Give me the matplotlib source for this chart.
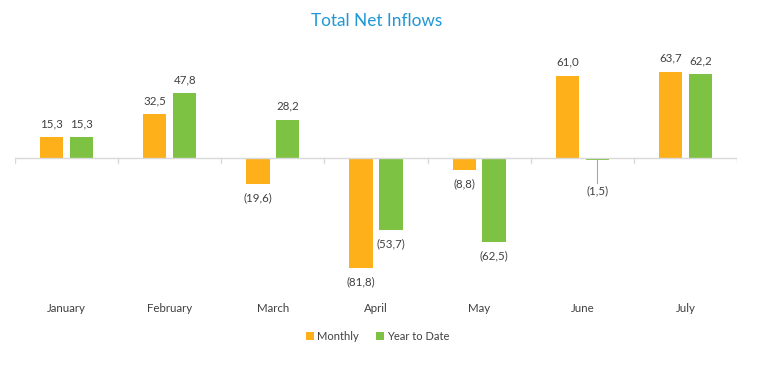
import matplotlib.pyplot as plt
import matplotlib.transforms as mtransforms
import numpy as np

# Datos
months = ['January', 'February', 'March', 'April', 'May', 'June', 'July']
monthly = [15.3, 32.5, -19.6, -81.8, -8.8, 61.0, 63.7]
ytd = [15.3, 47.8, 28.2, -53.7, -62.5, -1.5, 62.2]

orange = '#FDB01A'
green = '#7DC242'
plt.rcParams['font.family'] = ['Lato', 'DejaVu Sans']


def fmt(v):
    s = f'{abs(v):.1f}'.replace('.', ',')
    return f'({s})' if v < 0 else s


fig = plt.figure(figsize=(7.68, 3.73), dpi=100)
ax = fig.add_axes([15 / 768, 1 - 290 / 373, 722 / 768, 245 / 373])

x = np.arange(len(months))
w = 0.225
off = 0.145
ax.bar(x - off, monthly, w, color=orange, label='Monthly')
ax.bar(x + off, ytd, w, color=green, label='Year to Date')

ax.set_xlim(-0.5, len(months) - 0.5)
ax.set_ylim(-97.8, 83.7)
ax.axhline(0, color='#D9D9D9', lw=1)
for b in np.arange(-0.5, len(months)):
    ax.plot([b, b], [0, -3.5], color='#D9D9D9', lw=1)

for spine in ax.spines.values():
    spine.set_visible(False)
ax.set_xticks([])
ax.set_yticks([])

# Etiquetas de valores
for xs, vals in [(x - off, monthly), (x + off, ytd)]:
    for xi, v in zip(xs, vals):
        if abs(v) < 5 and v < 0:
            ax.plot([xi, xi], [v, -18.5], color='#A6A6A6', lw=0.8)
            ax.text(xi, -20, fmt(v), ha='center', va='top', fontsize=8.3, color='#404040')
        elif v >= 0:
            ax.text(xi, v + 6, fmt(v), ha='center', va='bottom', fontsize=8.3, color='#404040')
        else:
            ax.text(xi, v - 6, fmt(v), ha='center', va='top', fontsize=8.3, color='#404040')

trans = mtransforms.blended_transform_factory(ax.transData, fig.transFigure)
for xi, m in zip(x, months):
    ax.text(xi, 1 - 309 / 373, m, transform=trans, ha='center', va='center',
            fontsize=8.3, color='#404040')

fig.text(0.491, 1 - 21 / 373, 'Total Net Inflows', ha='center', va='center',
         fontsize=12.4, color='#1F97D4')

fig.legend(loc='center', bbox_to_anchor=(0.492, 1 - 336 / 373), ncol=2, frameon=False,
           fontsize=8, handlelength=0.7, handleheight=0.7, handletextpad=0.3,
           columnspacing=1.5, labelcolor='#404040')

fig.savefig('out.png', dpi=100)
